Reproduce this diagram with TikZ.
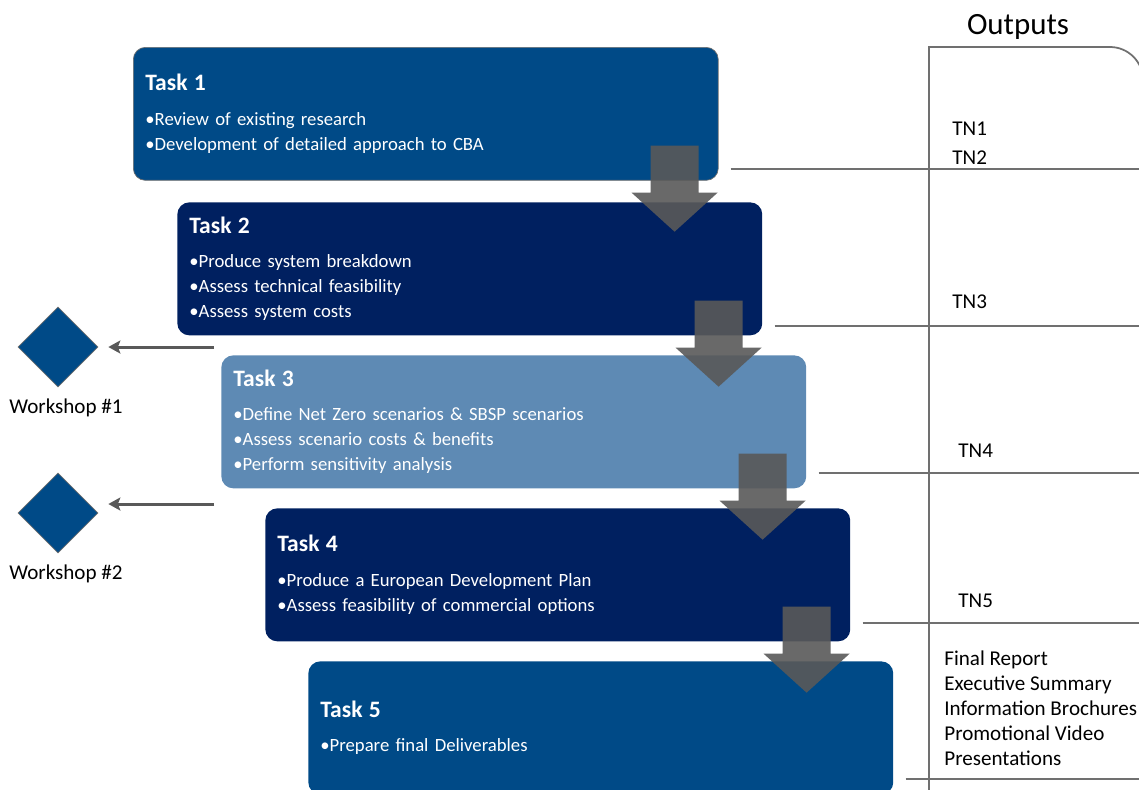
\documentclass[tikz,border=0pt]{standalone}
\usepackage{fontspec}
\setmainfont{Carlito}
\usepackage{xcolor}
\usetikzlibrary{shapes.geometric,arrows.meta,positioning}
\definecolor{taskblue}{RGB}{0,74,135}
\definecolor{tasknavy}{RGB}{0,32,96}
\definecolor{tasklight}{RGB}{94,138,180}
\definecolor{arrowgray}{RGB}{89,89,89}
\definecolor{linegray}{RGB}{112,112,112}
\newcommand{\tasktitle}[1]{{\fontsize{13.4}{16}\selectfont\bfseries #1}\\[5.4pt]}

\begin{document}
\begin{tikzpicture}[x=0.02cm, y=-0.02cm,
    task/.style={rectangle, rounded corners=0.24cm, minimum width=11.7cm, minimum height=2.66cm,
        text width=11.22cm, inner xsep=0.24cm, align=left, anchor=north west, text=white,
        font=\fontsize{10.65}{14.2}\selectfont},
    flowarrow/.style={fill=arrowgray, fill opacity=0.9},
    wsdiamond/.style={diamond, draw=linegray, fill=taskblue, minimum width=1.6cm, minimum height=1.6cm, inner sep=0pt},
    wsarrow/.style={draw=arrowgray, line width=1.7pt, -{Stealth[length=0.24cm, width=0.26cm, inset=0.05cm]}, shorten >=0.2cm},
    sepline/.style={draw=linegray, line width=0.7pt},
    frameline/.style={draw=linegray, line width=1pt},
    outtext/.style={font=\fontsize{12}{14.2}\selectfont, inner sep=0pt, anchor=west}]
    \clip (0,0) rectangle (1139,789);

    % Tasks
    \node [task, fill=taskblue, draw=linegray] (t1) at (133,47) {\tasktitle{Task 1}
        •Review of existing research\\
        •Development of detailed approach to CBA};
    \node [task, fill=tasknavy] (t2) at ([shift={(44,155)}]t1.north west) {\tasktitle{Task 2}
        •Produce system breakdown\\
        •Assess technical feasibility\\
        •Assess system costs};
    \node [task, fill=tasklight] (t3) at ([shift={(44,153)}]t2.north west) {\tasktitle{Task 3}
        •Define Net Zero scenarios \& SBSP scenarios\\
        •Assess scenario costs \& benefits\\
        •Perform sensitivity analysis};
    \node [task, fill=tasknavy] (t4) at ([shift={(44,153)}]t3.north west) {\tasktitle{Task 4}
        •Produce a European Development Plan\\
        •Assess feasibility of commercial options};
    \node [task, fill=taskblue] (t5) at ([shift={(43,153)}]t4.north west) {\tasktitle{Task 5}
        •Prepare final Deliverables};

    % Arrows between tasks
    \foreach \i in {1,...,4}
        \fill [flowarrow] ([shift={(-68,-35)}]t\i.south east) -- ++(48,0) -- ++(0,47) -- ++(19,0)
            -- ++(-43,39) -- ++(-43,-39) -- ++(19,0) -- cycle;

    % Workshops
    \node [wsdiamond] (w1) at (58,347) {};
    \node [below=0.1cm of w1, xshift=0.16cm, font=\fontsize{12}{14}\selectfont] (w1lab) {Workshop \#1};
    \node [wsdiamond] (w2) at (58,513) {};
    \node [below=0.1cm of w2, xshift=0.16cm, font=\fontsize{12}{14}\selectfont] (w2lab) {Workshop \#2};
    \coordinate (w1tail) at (214,347);
    \coordinate (w2tail) at (214,504);
    \draw [wsarrow] (w1tail) -- (w1.east |- w1tail);
    \draw [wsarrow] (w2tail) -- (w2.east |- w2tail);

    % Outputs column
    \node [font=\fontsize{17.6}{20}\selectfont] (outputs) at (1018,27) {Outputs};
    \draw [frameline] (929,800) -- (929,47) -- (1080,47);
    \draw [frameline, rounded corners=0.66cm] (1070,47) -- (1143,47) -- (1143,800);
    \foreach \i/\y in {1/169,2/326,3/473,4/623,5/779}
        \draw [sepline] (t\i.east |- 0,\y) ++(12,0) -- (1139,\y);

    \node [outtext] (tn1) at (952,129) {TN1};
    \node [outtext] (tn2) at (952,158) {TN2};
    \node [outtext] (tn3) at (952,302) {TN3};
    \node [outtext] (tn4) at (958,451) {TN4};
    \node [outtext] (tn5) at (958,601) {TN5};
    \node [outtext, align=left] (final) at (944,708) {Final Report\\ Executive Summary\\ Information Brochures\\ Promotional Video\\ Presentations};

\end{tikzpicture}
\end{document}
